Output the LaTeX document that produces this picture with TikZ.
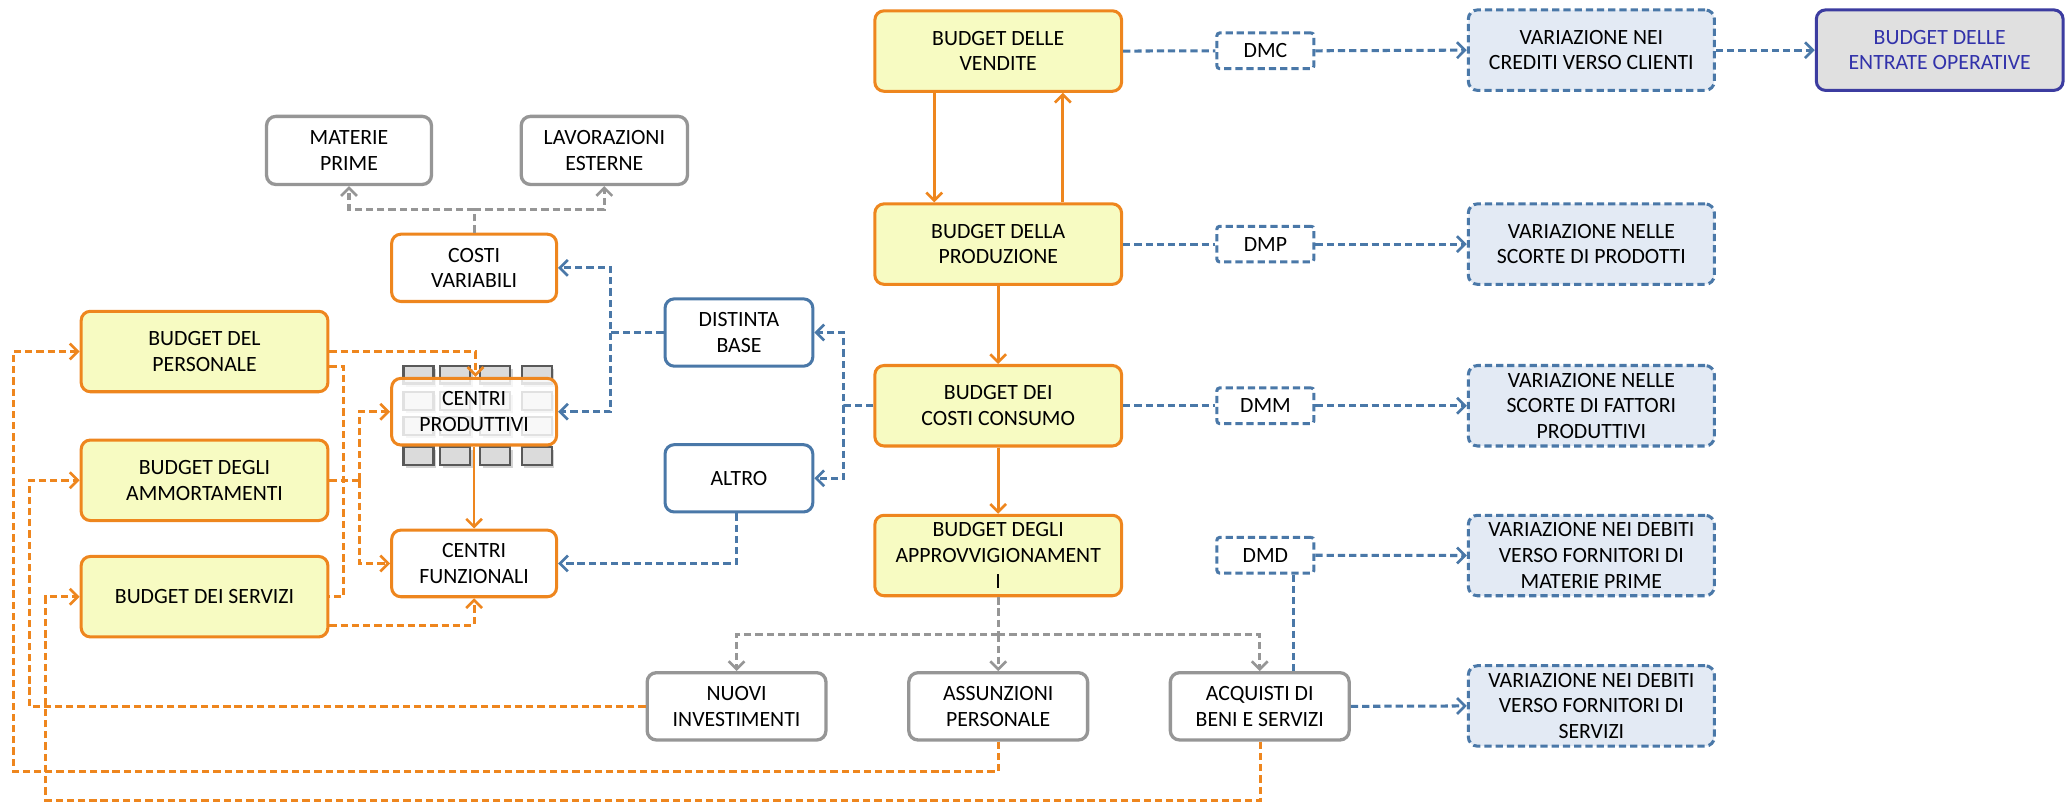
\documentclass[tikz,border=0pt]{standalone}
\usepackage{fontspec}
\setmainfont{Carlito}
\usetikzlibrary{arrows.meta,shadows}
\definecolor{orng}{RGB}{238,134,30}
\definecolor{ylw}{RGB}{247,251,194}
\definecolor{blu}{RGB}{74,120,168}
\definecolor{lblu}{RGB}{227,234,244}
\definecolor{gry}{RGB}{150,150,150}
\definecolor{entrb}{RGB}{60,60,160}
\definecolor{entrt}{RGB}{50,50,170}
\definecolor{entrf}{RGB}{224,224,224}
\newcommand\fs{\fontsize{16.5}{19.5}\selectfont}
\tikzset{
  box/.style={rectangle, rounded corners=7pt, line width=2.3pt, align=center, inner sep=0pt, font=\fs},
  ybox/.style={box, draw=orng, fill=ylw, minimum width=187pt, minimum height=61pt},
  dmbox/.style={box, rounded corners=2pt, draw=blu, fill=white, dash pattern=on 5.5pt off 3pt, minimum width=73.5pt, minimum height=27pt},
  varbox/.style={box, draw=blu, fill=lblu, dash pattern=on 5.5pt off 3pt, minimum width=186.5pt, minimum height=61pt},
  entrbox/.style={box, draw=entrb, fill=entrf, text=entrt, minimum width=187pt, minimum height=61pt},
  gbox/.style={box, draw=gry, fill=white, line width=2.5pt, minimum width=135.5pt, minimum height=51pt},
  obox/.style={box, draw=orng, fill=white, minimum width=125pt, minimum height=50.5pt},
  bbox/.style={box, draw=blu, fill=white, minimum width=112pt, minimum height=51pt},
  sq/.style={rectangle, draw=black!65, fill=black!14, line width=1.8pt, minimum width=22.7pt, minimum height=13.5pt, inner sep=0pt,
     drop shadow={opacity=0.35, shadow xshift=2pt, shadow yshift=-2.5pt}},
  arr/.style={-{Straight Barb[length=6pt,width=12pt,line width=2pt]}},
  osol/.style={draw=orng, line width=2.1pt, arr},
  odash/.style={draw=orng, line width=2.3pt, dash pattern=on 5.5pt off 3pt},
  bdash/.style={draw=blu, line width=2.3pt, dash pattern=on 5.5pt off 3pt},
  gdash/.style={draw=gry, line width=2.3pt, dash pattern=on 5.5pt off 3pt},
}
\begin{document}
\begin{tikzpicture}[x=1pt,y=-1pt]
\useasboundingbox (0,0) rectangle (1568,609);

% central column
\node[ybox] (vend) at (756.5,38.7) {BUDGET DELLE\\VENDITE};
\node[ybox] (prod) at (756.5,185) {BUDGET DELLA\\PRODUZIONE};
\node[ybox] (cons) at (756.5,307.5) {BUDGET DEI\\COSTI CONSUMO};
\node[ybox] (appr) at (756.5,421) {BUDGET DEGLI\\APPROVVIGIONAMENT\\I};

% left budgets
\node[ybox] (pers) at (155,266.4) {BUDGET DEL\\PERSONALE};
\node[ybox] (amm) at (155,364) {BUDGET DEGLI\\AMMORTAMENTI};
\node[ybox] (serv) at (155,452.2) {BUDGET DEI SERVIZI};

% DM boxes
\node[dmbox] (dmc) at (959,38.5) {DMC};
\node[dmbox] (dmp) at (959,185) {DMP};
\node[dmbox] (dmm) at (959,307.5) {DMM};
\node[dmbox] (dmd) at (959,420.8) {DMD};

% variation boxes
\node[varbox] (var1) at (1206,38) {VARIAZIONE NEI\\CREDITI VERSO CLIENTI};
\node[varbox] (var2) at (1206,185) {VARIAZIONE NELLE\\SCORTE DI PRODOTTI};
\node[varbox] (var3) at (1206,307.5) {VARIAZIONE NELLE\\SCORTE DI FATTORI\\PRODUTTIVI};
\node[varbox] (var4) at (1206,421) {VARIAZIONE NEI DEBITI\\VERSO FORNITORI DI\\MATERIE PRIME};
\node[varbox] (var5) at (1206,535) {VARIAZIONE NEI DEBITI\\VERSO FORNITORI DI\\SERVIZI};
\node[entrbox] (entr) at (1470,38) {BUDGET DELLE\\ENTRATE OPERATIVE};

% gray boxes
\node[gbox, minimum width=125pt, minimum height=51.6pt] (mat) at (264.5,114) {MATERIE\\PRIME};
\node[gbox, minimum width=126pt, minimum height=51.6pt] (lav) at (458,114) {LAVORAZIONI\\ESTERNE};
\node[gbox] (nuovi) at (558.2,535.3) {NUOVI\\INVESTIMENTI};
\node[gbox] (assun) at (756.5,535.3) {ASSUNZIONI\\PERSONALE};
\node[gbox] (acq) at (954.7,535.3) {ACQUISTI DI\\BENI E SERVIZI};

% blue boxes
\node[bbox] (dist) at (560,252) {DISTINTA\\BASE};
\node[bbox] (altro) at (560,362.5) {ALTRO};

% orange white boxes
\node[obox, minimum height=51pt] (cvar) at (359.3,203) {COSTI\\VARIABILI};
\foreach \x [count=\i] in {317.05,344.85,375.15,406.75}{
  \foreach \y [count=\j] in {284,303.8,322.8,345.5}{
    \node[sq] (sq\i\j) at (\x,\y) {};
  }
}
\node[obox, fill opacity=0.82, text opacity=1] (cprod) at (359.3,312) {CENTRI\\PRODUTTIVI};
\node[obox] (cfunz) at (359.3,427) {CENTRI\\FUNZIONALI};

% solid orange connectors
\draw[osol] ([xshift=-48.5pt]vend.south) -- ([xshift=-48.5pt]prod.north);
\draw[osol] ([xshift=49pt]prod.north) -- ([xshift=49pt]vend.south);
\draw[osol] (prod.south) -- (cons.north);
\draw[osol] (cons.south) -- (appr.north);
\draw[osol] (cprod.south) -- (cfunz.north);

% blue dashed right side
\draw[bdash] (vend.east) -- (dmc.west);
\draw[bdash,arr] (dmc.east) -- (var1.west);
\draw[bdash,arr] (var1.east) -- (entr.west);
\draw[bdash] (prod.east) -- (dmp.west);
\draw[bdash,arr] (dmp.east) -- (var2.west);
\draw[bdash] (cons.east) -- (dmm.west);
\draw[bdash,arr] (dmm.east) -- (var3.west);
\draw[bdash,arr] (dmd.east) -- (var4.west);
\draw[bdash] ([xshift=21.6pt]dmd.south) -- ([xshift=21.6pt]dmd.south |- acq.north);
\draw[bdash,arr] (acq.east) -- (var5.west);

% blue dashed left side
\coordinate (cb) at (639.6,307.5);
\draw[bdash,arr] (cons.west) -- (cb) |- (dist.east);
\draw[bdash,arr] (cb) |- (altro.east);
\coordinate (db) at (462.8,252);
\draw[bdash,arr] (dist.west) -- (db) |- (cvar.east);
\draw[bdash,arr] (db) |- (cprod.east);
\draw[bdash,arr] ([xshift=-1.7pt]altro.south) |- (cfunz.east);

% gray dashed
\coordinate (gb1) at (359.3,158.6);
\draw[gdash] (cvar.north) -- (gb1);
\draw[gdash,arr] (gb1) -| (mat.south);
\draw[gdash,arr] (gb1) -| (lav.south);
\coordinate (gb2) at (756.5,480.7);
\draw[gdash] (appr.south) -- (gb2);
\draw[gdash,arr] (gb2) -| (nuovi.north);
\draw[gdash,arr] (gb2) -- (assun.north);
\draw[gdash,arr] (gb2) -| (acq.north);

% orange dashed
\draw[odash,arr] (pers.east) -| ([xshift=1pt]cprod.north);
\coordinate (pb) at (260.6,278);
\draw[odash] (pers.east |- pb) -- (pb) |- (serv.east);
\coordinate (ab) at (272.4,364);
\draw[odash] (amm.east) -- (ab);
\draw[odash,arr] (ab) |- (cprod.west);
\draw[odash,arr] (ab) |- (cfunz.west);
\coordinate (sb) at (249,473.7);
\draw[odash,arr] (serv.east |- sb) -| (cfunz.south);

\coordinate (l1) at (22,535.3);
\draw[odash,arr] (nuovi.west) -- (nuovi.west -| l1) |- (amm.west);
\coordinate (l2) at (10.1,584.8);
\draw[odash,arr] (assun.south) |- (l2) |- (pers.west);
\coordinate (l3) at (34.8,606.3);
\draw[odash,arr] ([xshift=0.7pt]acq.south) |- (l3) |- (serv.west);
\end{tikzpicture}
\end{document}
